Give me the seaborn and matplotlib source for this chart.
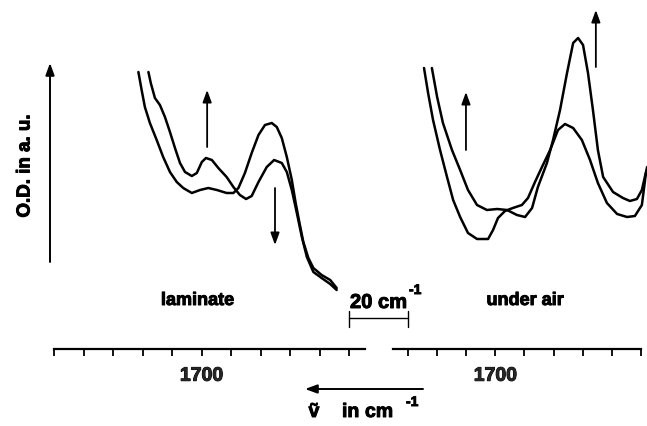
import matplotlib
matplotlib.use("Agg")
import matplotlib.pyplot as plt
import matplotlib.patheffects as pe
import seaborn as sns
import pandas as pd

sns.set_theme(style="white")
plt.rcParams["font.family"] = ["Liberation Sans", "DejaVu Sans"]
plt.rcParams["font.weight"] = "bold"

# --- laminate spectra (wavenumber in cm^-1, O.D. in a.u.) ---
lam_a_wn = [1721.4, 1720.3, 1719.2, 1717.5, 1715.2, 1713.0, 1710.7, 1708.4, 1706.2,
            1703.3, 1700.5, 1697.7, 1694.8, 1691.5, 1689.2, 1687.5, 1685.3, 1683.0,
            1680.7, 1678.5, 1676.2, 1674.5, 1672.8, 1671.1, 1669.4, 1668.1, 1666.8,
            1665.5, 1663.8, 1662.1, 1659.3, 1656.4, 1654.2]
lam_a_od = [2.77, 2.59, 2.42, 2.26, 2.09, 1.92, 1.77, 1.67, 1.61,
            1.56, 1.59, 1.61, 1.59, 1.56, 1.56, 1.61, 1.76, 1.96,
            2.14, 2.24, 2.26, 2.22, 2.11, 1.92, 1.69, 1.46, 1.26,
            1.07, 0.91, 0.81, 0.74, 0.69, 0.61]

lam_b_wn = [1718.0, 1717.2, 1715.8, 1714.1, 1712.4, 1710.7, 1709.0, 1707.3, 1705.6,
            1703.3, 1701.6, 1699.9, 1698.5, 1696.5, 1694.3, 1691.5, 1689.2, 1687.0,
            1684.9, 1683.0, 1680.7, 1677.9, 1675.4, 1672.8, 1671.1, 1669.4, 1667.7,
            1666.0, 1664.3, 1662.1, 1659.3, 1656.4, 1654.2]
lam_b_od = [2.77, 2.66, 2.51, 2.44, 2.32, 2.17, 2.01, 1.86, 1.77,
            1.73, 1.76, 1.87, 1.91, 1.89, 1.81, 1.72, 1.62, 1.54,
            1.50, 1.53, 1.67, 1.82, 1.89, 1.86, 1.77, 1.59, 1.36,
            1.12, 0.92, 0.77, 0.71, 0.65, 0.59]

# --- spectra under air ---
air_a_wn = [1724.5, 1723.1, 1721.4, 1719.0, 1716.6, 1714.5, 1712.1, 1709.4, 1706.3,
            1702.5, 1700.8, 1699.1, 1696.7, 1694.0, 1690.9, 1688.8, 1686.4, 1684.0,
            1681.2, 1678.5, 1676.1, 1673.3, 1670.3, 1667.5, 1664.8, 1661.7, 1658.2,
            1654.8, 1652.1, 1649.7, 1648.3]
air_a_od = [2.81, 2.56, 2.29, 1.99, 1.72, 1.49, 1.32, 1.16, 1.10,
            1.10, 1.19, 1.31, 1.38, 1.41, 1.44, 1.51, 1.67, 1.82,
            1.99, 2.19, 2.25, 2.21, 2.09, 1.89, 1.66, 1.46, 1.35,
            1.32, 1.33, 1.44, 1.76]

air_b_wn = [1721.8, 1720.0, 1718.0, 1714.9, 1712.1, 1709.4, 1706.3, 1702.9, 1699.4,
            1696.0, 1692.6, 1689.8, 1687.4, 1685.4, 1682.3, 1680.2, 1677.8, 1675.4,
            1673.3, 1671.6, 1669.9, 1668.2, 1666.5, 1664.8, 1663.0, 1659.6, 1656.2,
            1653.8, 1651.4, 1649.7, 1647.9]
air_b_od = [2.81, 2.52, 2.26, 1.99, 1.79, 1.59, 1.44, 1.39, 1.40,
            1.39, 1.34, 1.32, 1.41, 1.62, 1.86, 2.09, 2.39, 2.76,
            3.06, 3.11, 3.04, 2.76, 2.39, 1.99, 1.72, 1.57, 1.51,
            1.48, 1.50, 1.59, 1.82]

lam_ticks = [1750, 1740, 1730, 1720, 1710, 1700, 1690, 1680, 1670, 1660, 1650]
air_ticks = [1730, 1720, 1710, 1700, 1690, 1680, 1670, 1660, 1650]
labelled_tick = 1700

# change arrows: (wavenumber, O.D. start, O.D. end)
lam_arrows = [(1698.1, 2.02, 2.59), (1675.1, 1.61, 1.04)]
air_arrows = [(1710.1, 1.99, 2.57), (1665.5, 2.82, 3.39)]

W, H = 647, 426
fig = plt.figure(figsize=(W / 100, H / 100), dpi=100)
fig.patch.set_facecolor("white")

heavy = [pe.withStroke(linewidth=0.7, foreground="black")]


def fx(px):
    return px / W


def fy(py):
    return 1 - py / H


ax_l = fig.add_axes([fx(54), fy(349), fx(365) - fx(54), 349 / H])
ax_r = fig.add_axes([fx(393), fy(349), fx(641) - fx(393), 349 / H])

panels = [
    (ax_l, (1750, 1644.6), lam_ticks,
     [(lam_a_wn, lam_a_od), (lam_b_wn, lam_b_od)], lam_arrows),
    (ax_r, (1735.15, 1650), air_ticks,
     [(air_a_wn, air_a_od), (air_b_wn, air_b_od)], air_arrows),
]

for ax, xlim, ticks, spectra, arrows in panels:
    ax.set_facecolor("none")
    for wn, od in spectra:
        df = pd.DataFrame({"wn": wn, "od": od})
        sns.lineplot(data=df, x="wn", y="od", sort=False, estimator=None,
                     color="black", lw=1.8, ax=ax, clip_on=False,
                     solid_joinstyle="round", solid_capstyle="round")
    ax.set_xlim(*xlim)
    ax.set_ylim(0, 3.49)
    for side in ["top", "left", "right"]:
        ax.spines[side].set_visible(False)
    ax.spines["bottom"].set_color("black")
    ax.spines["bottom"].set_linewidth(1.6)
    ax.set_xticks(ticks)
    ax.set_xticklabels([str(t) if t == labelled_tick else "" for t in ticks],
                       fontsize=14, fontweight="bold")
    for lab in ax.get_xticklabels():
        lab.set_path_effects(heavy)
    ax.tick_params(axis="x", direction="out", length=5, width=1.3,
                   color="black", pad=8.5, bottom=True)
    ax.set_yticks([])
    ax.set_xlabel("")
    ax.set_ylabel("")
    for x, y0, y1 in arrows:
        ax.annotate("", xy=(x, y1), xytext=(x, y0),
                    arrowprops=dict(arrowstyle="-|>,head_length=0.6,head_width=0.22",
                                    mutation_scale=12, lw=1.3, color="black",
                                    shrinkA=0, shrinkB=0),
                    annotation_clip=False)

# 20 cm^-1 scale bar, drawn in the laminate wavenumber scale
bar_y, cap_lo, cap_hi = 0.31, 0.22, 0.38
ax_l.plot([1650, 1630], [bar_y, bar_y], color="black", lw=1.0, clip_on=False)
ax_l.plot([1650, 1650], [cap_lo, cap_hi], color="black", lw=1.0, clip_on=False)
ax_l.plot([1630, 1630], [cap_lo, cap_hi], color="black", lw=1.0, clip_on=False)

bold = dict(fontweight="bold", color="black", path_effects=heavy)
fig.text(fx(378.5), fy(308), "20 cm", ha="center", va="baseline", fontsize=14.5, **bold)
fig.text(fx(409), fy(294), "-1", ha="left", va="baseline", fontsize=10, **bold)
fig.text(fx(197.5), fy(305), "laminate", ha="center", va="baseline", fontsize=13, **bold)
fig.text(fx(525), fy(305), "under air", ha="center", va="baseline", fontsize=13, **bold)

# y-axis arrow and label
fig.patches.append(matplotlib.patches.FancyArrowPatch(
    (fx(50), fy(262)), (fx(50), fy(63)), transform=fig.transFigure,
    arrowstyle="-|>,head_length=0.6,head_width=0.22", mutation_scale=12,
    lw=1.4, color="black", shrinkA=0, shrinkB=0))
fig.text(fx(25), fy(166), "O.D. in a. u.", rotation=90, ha="center", va="center",
         fontsize=13.5, **bold)

# wavenumber direction arrow and axis caption
fig.patches.append(matplotlib.patches.FancyArrowPatch(
    (fx(423), fy(389)), (fx(305), fy(389)), transform=fig.transFigure,
    arrowstyle="-|>,head_length=0.6,head_width=0.22", mutation_scale=12,
    lw=1.4, color="black", shrinkA=0, shrinkB=0))
fig.text(fx(314), fy(417), "\u1e7d", ha="center", va="baseline", fontsize=14, **bold)
fig.text(fx(342), fy(417), "in", ha="left", va="baseline", fontsize=14, **bold)
fig.text(fx(365), fy(417), "cm", ha="left", va="baseline", fontsize=14, **bold)
fig.text(fx(406), fy(406), "-1", ha="left", va="baseline", fontsize=10, **bold)

fig.savefig("out.png", dpi=100, facecolor="white")
